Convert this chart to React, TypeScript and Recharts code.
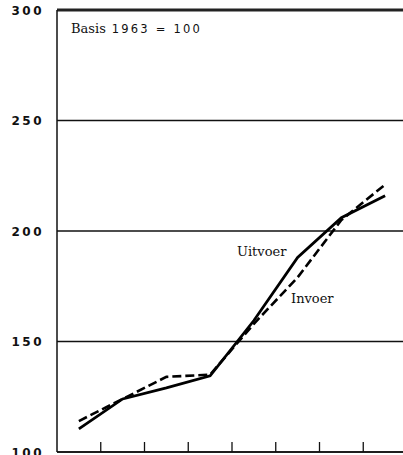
import React from 'react';
import { LineChart, Line, XAxis, YAxis, CartesianGrid, ReferenceLine } from 'recharts';

// index numbers, basis 1963 = 100
const years = ['1964', '1965', '1966', '1967', '1968', '1969', '1970', '1971'];
const uitvoer = [110.5, 124, 129, 134.5, 159.5, 188, 206, 216];
const invoer = [114, 124, 134, 135, 158, 179, 205, 221];
const yTicks = [100, 150, 200, 250, 300];
const xTicks = [1, 2, 3, 4, 5, 6, 7];

const data = years.map((year, i) => ({
  year,
  pos: i + 0.5,
  uitvoer: uitvoer[i],
  invoer: invoer[i],
}));

const numFont = '"DejaVu Sans", sans-serif';
const serifFont = '"DejaVu Serif", serif';

const YTick = (props: any) => {
  const { x, y, payload } = props;
  return (
    <text
      x={x - 1}
      y={y}
      dy={4.5}
      textAnchor="end"
      fontFamily={numFont}
      fontSize={12}
      fontWeight={700}
      letterSpacing={2.5}
      fill="#111"
    >
      {payload.value}
    </text>
  );
};

export default function App() {
  return (
    <div style={{ position: 'absolute', left: 0, top: 0, width: 403, height: 455, overflow: 'hidden', background: '#fff' }}>
      <LineChart
        width={407}
        height={455}
        data={data}
        margin={{ top: 10, right: 0, bottom: 3, left: 8 }}
      >
        <CartesianGrid horizontal vertical={false} stroke="#111" strokeWidth={1.3} />
        {/* top frame line */}
        <ReferenceLine y={300} ifOverflow="visible" stroke="#222" strokeWidth={3} />
        <XAxis
          dataKey="pos"
          type="number"
          domain={[0, 8]}
          ticks={xTicks}
          height={1}
          mirror
          tickSize={10}
          tickFormatter={() => ''}
          axisLine={{ stroke: '#111', strokeWidth: 1.5 }}
          tickLine={{ stroke: '#111', strokeWidth: 1.3 }}
        />
        <YAxis
          type="number"
          domain={[100, 300]}
          ticks={yTicks}
          interval={0}
          width={49}
          tickSize={0}
          tickMargin={12}
          tickLine={false}
          axisLine={{ stroke: '#111', strokeWidth: 1.5 }}
          tick={<YTick />}
        />
        <Line
          type="linear"
          dataKey="uitvoer"
          stroke="#000"
          strokeWidth={2.8}
          dot={false}
          isAnimationActive={false}
        />
        <Line
          type="linear"
          dataKey="invoer"
          stroke="#000"
          strokeWidth={2.6}
          strokeDasharray="9 4"
          dot={false}
          isAnimationActive={false}
        />
      </LineChart>
      <svg width={403} height={455} style={{ position: 'absolute', left: 0, top: 0, pointerEvents: 'none' }}>
        <text x={71} y={33} fontFamily={serifFont} fontSize={13} fill="#111">
          <tspan>Basis</tspan>
          <tspan dx={6} fontFamily={numFont} fontSize={11.5} letterSpacing={2.2}>1963 = 100</tspan>
        </text>
        <text x={237} y={256} fontFamily={serifFont} fontSize={13} fill="#111">Uitvoer</text>
        <text x={291} y={303} fontFamily={serifFont} fontSize={13} fill="#111">Invoer</text>
      </svg>
    </div>
  );
}
